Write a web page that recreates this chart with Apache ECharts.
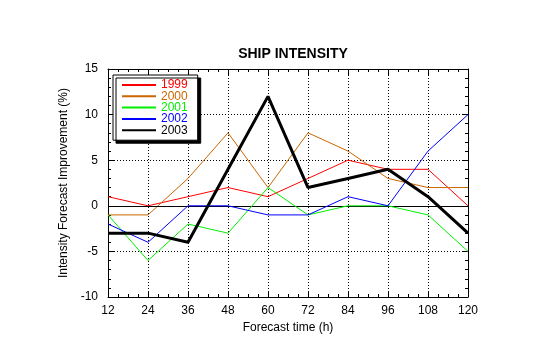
<!DOCTYPE html>
<html>
<head>
<meta charset="utf-8">
<script src="https://cdn.jsdelivr.net/npm/echarts@6/dist/echarts.min.js"></script>
<style>
  html, body { margin: 0; padding: 0; background: #fff; }
  #chart { width: 540px; height: 344px; }
</style>
</head>
<body>
<div id="chart"></div>
<script>
// Forecast hours along the x axis
const forecastHours = [12, 24, 36, 48, 60, 72, 84, 96, 108, 120];

// Intensity forecast improvement (%) per season
const years = ['1999', '2000', '2001', '2002', '2003'];
const imp1999 = [1, 0, 1, 2, 1, 3, 5, 4, 4, 0];
const imp2000 = [-1, -1, 3, 8, 2, 8, 6, 3, 2, 2];
const imp2001 = [-1, -6, -2, -3, 2, -1, 0, 0, -1, -5];
const imp2002 = [-2, -4, 0, 0, -1, -1, 1, 0, 6, 10];
const imp2003 = [-3, -3, -4, 4, 12, 2, 3, 4, 1, -3];

const seriesValues = [imp1999, imp2000, imp2001, imp2002, imp2003];
const colors = ['#ff0000', '#cc6600', '#00f000', '#0000ff', '#000000'];
const widths = [1, 1, 1, 1, 3];

const FONT = '"Liberation Sans", Arial, Helvetica, sans-serif';

const chart = echarts.init(document.getElementById('chart'), null, { renderer: 'canvas' });

const series = years.map((y, i) => ({
  name: y,
  type: 'line',
  symbol: 'none',
  animation: false,
  color: colors[i],
  lineStyle: { color: colors[i], width: widths[i] },
  data: forecastHours.map((h, k) => [h, seriesValues[i][k]]),
  z: 3 + i
}));

// solid zero line
series[0].markLine = {
  silent: true,
  symbol: 'none',
  animation: false,
  label: { show: false },
  lineStyle: { color: '#000', type: 'solid', width: 1 },
  data: [{ yAxis: 0 }]
};

const xCommon = {
  type: 'value',
  min: 12, max: 120, interval: 12,
  axisLine: { show: true, onZero: false, lineStyle: { color: '#000', width: 1 } },
  axisTick: { show: true, inside: true, length: 6, lineStyle: { color: '#000' } },
  minorTick: { show: true, splitNumber: 4, length: 3, lineStyle: { color: '#000' } },
};
const yCommon = {
  type: 'value',
  min: -10, max: 15, interval: 5,
  axisLine: { show: true, onZero: false, lineStyle: { color: '#000', width: 1 } },
  axisTick: { show: true, inside: true, length: 6, lineStyle: { color: '#000' } },
  minorTick: { show: true, splitNumber: 5, length: 3, lineStyle: { color: '#000' } },
};

chart.setOption({
  animation: false,
  backgroundColor: '#fff',
  textStyle: { fontFamily: FONT },
  title: {
    text: 'SHIP INTENSITY',
    left: 288, top: 42, textAlign: 'center',
    textStyle: { fontFamily: FONT, fontSize: 14, fontWeight: 'bold', color: '#000' }
  },
  grid: { left: 108, right: 72, top: 69, bottom: 47, show: false },
  legend: {
    orient: 'vertical',
    left: 113, top: 75,
    padding: [4, 10, 4, 8],
    itemGap: -0.7,
    itemWidth: 34, itemHeight: 8,
    backgroundColor: '#fff',
    borderColor: '#000', borderWidth: 1, borderRadius: 0,
    shadowColor: '#000', shadowBlur: 0, shadowOffsetX: 3, shadowOffsetY: 3,
    selectedMode: false,
    itemStyle: { opacity: 0 },
    textStyle: { fontFamily: FONT, fontSize: 12, padding: [0, 0, 0, 0] },
    data: years.map((y, i) => ({
      name: y,
      textStyle: { color: i === 4 ? '#000' : colors[i] }
    }))
  },
  xAxis: [
    Object.assign({}, xCommon, {
      position: 'bottom',
      name: 'Forecast time (h)', nameLocation: 'middle', nameGap: 21,
      nameTextStyle: { fontFamily: FONT, fontSize: 12, color: '#000' },
      axisLabel: { color: '#000', fontSize: 12, margin: 8, fontFamily: FONT },
      splitLine: { show: true, lineStyle: { color: '#000', type: [1, 2], width: 1 } }
    }),
    Object.assign({}, xCommon, {
      position: 'top',
      axisLabel: { show: false },
      splitLine: { show: false }
    })
  ],
  yAxis: [
    Object.assign({}, yCommon, {
      position: 'left',
      name: 'Intensity Forecast Improvement (%)', nameLocation: 'middle', nameGap: 34,
      nameTextStyle: { fontFamily: FONT, fontSize: 12, color: '#000' },
      axisLabel: { color: '#000', fontSize: 12, margin: 10, fontFamily: FONT },
      splitLine: { show: true, lineStyle: { color: '#000', type: [1, 2], width: 1 } }
    }),
    Object.assign({}, yCommon, {
      position: 'right',
      axisLabel: { show: false },
      splitLine: { show: false }
    })
  ],
  series: series
});
</script>
</body>
</html>
